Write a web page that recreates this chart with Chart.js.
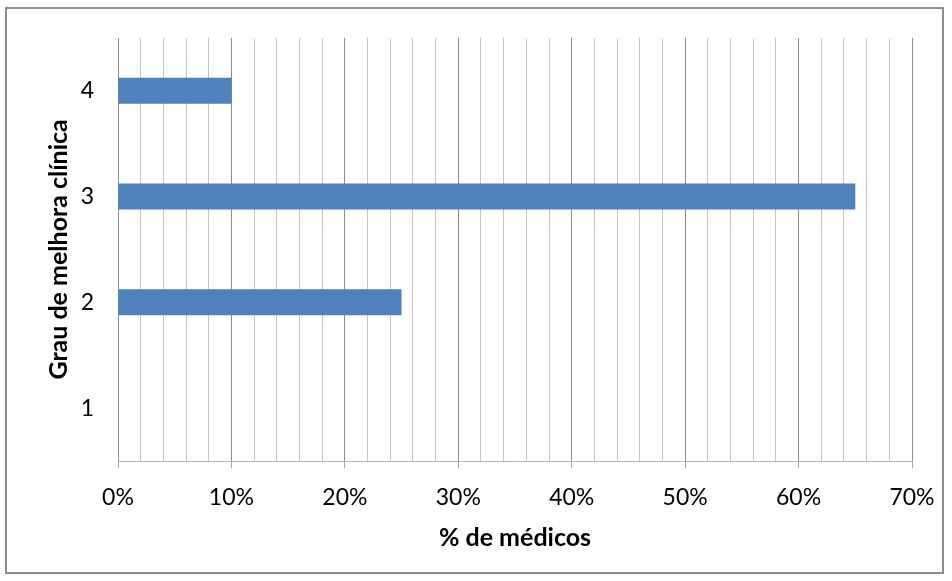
<!DOCTYPE html>
<html>
<head>
<meta charset="utf-8">
<script src="https://cdn.jsdelivr.net/npm/chart.js@4"></script>
<style>
  html, body { margin: 0; padding: 0; background: #fff; }
  #wrap { position: relative; width: 952px; height: 581px; }
  #frame { position: absolute; left: 5px; top: 7px; width: 939px; height: 567px; border: 2px solid #8c8c8c; box-sizing: border-box; }
  canvas { position: absolute; left: 0; top: 0; }
</style>
</head>
<body>
<div id="wrap">
  <div id="frame"></div>
  <canvas id="chart" width="952" height="581"></canvas>
</div>
<script>
// chart data
const categories = ["1", "2", "3", "4"];
const values = [0, 25, 65, 10];
const xTickLabels = ["0%", "10%", "20%", "30%", "40%", "50%", "60%", "70%"];
const xTitle = "% de médicos";
const yTitle = "Grau de melhora clínica";

const FONT = "Lato, 'Open Sans', sans-serif";

const ctx = document.getElementById("chart");
new Chart(ctx, {
  type: "bar",
  data: {
    labels: categories,
    datasets: [{ data: values, backgroundColor: "#4F81BD", barPercentage: 0.245, categoryPercentage: 1 }]
  },
  options: {
    indexAxis: "y",
    responsive: false,
    animation: false,
    layout: { padding: { top: 37, right: 40, left: 0, bottom: 0 } },
    plugins: { legend: { display: false }, tooltip: { enabled: false } },
    scales: {
      x: {
        min: 0, max: 70,
        afterFit: s => { s.height = 120; },
        ticks: {
          stepSize: 2, autoSkip: false, maxRotation: 0, padding: 16,
          color: "#000", font: { family: FONT, size: 23 },
          callback: v => (v % 10 === 0 ? xTickLabels[v / 10] : "")
        },
        grid: {
          color: c => (c.tick && c.tick.value % 10 === 0 ? "#8c8c8c" : "#c4c4c4"),
          tickColor: c => (c.tick && c.tick.value % 10 === 0 ? "#a6a6a6" : "rgba(0,0,0,0)"),
          tickLength: 7, lineWidth: 1
        },
        border: { color: "#b4b4b4" },
        title: {
          display: true, text: xTitle, color: "#000",
          font: { family: FONT, size: 25, weight: "bold" },
          padding: { top: 0, bottom: 28 }
        }
      },
      y: {
        reverse: true,
        afterFit: s => { s.width = 118; },
        ticks: { color: "#000", padding: 24, font: { family: FONT, size: 23 } },
        grid: { display: false, drawTicks: false },
        border: { display: false },
        title: {
          display: true, text: yTitle, color: "#000",
          font: { family: FONT, size: 25, weight: "bold" },
          padding: { top: 44, bottom: 0 }
        }
      }
    }
  }
});
</script>
</body>
</html>
